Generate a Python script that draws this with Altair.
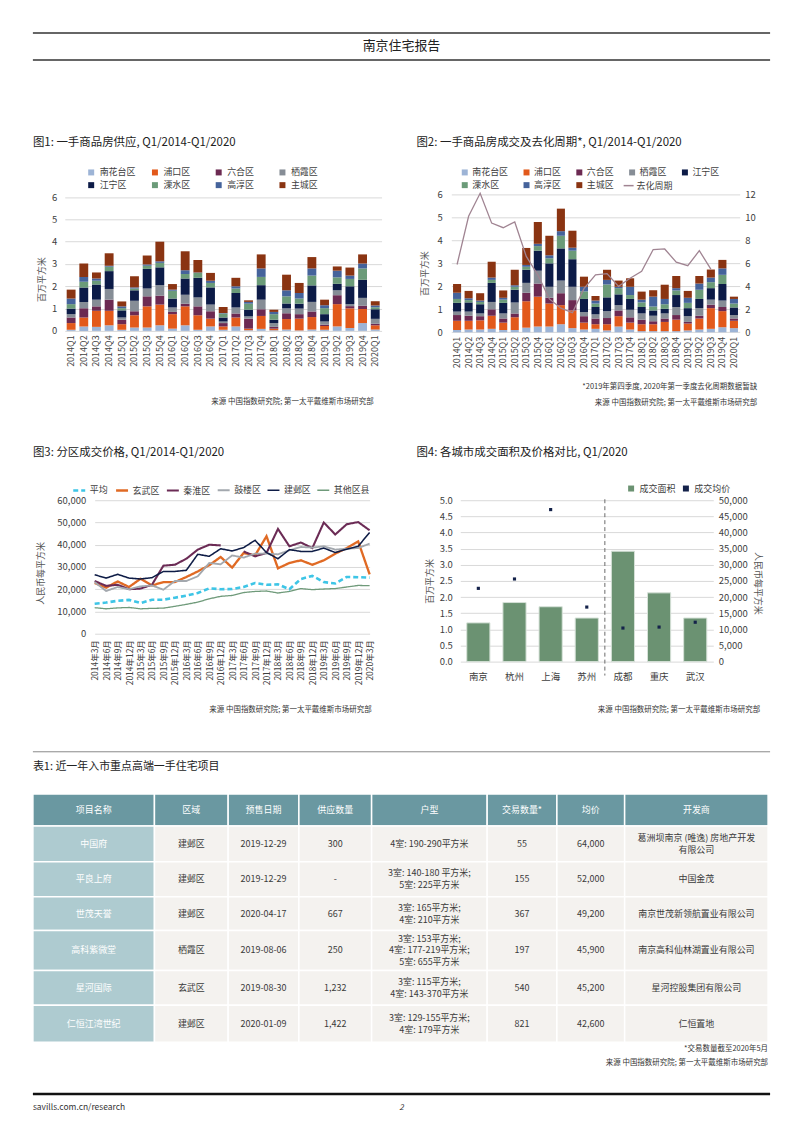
import altair as alt
import pandas as pd

FONT = "Noto Sans CJK SC"
TXT = "#333333"
LAB = "#404040"
GRID = "#d9d9d9"

# ---------------- data ----------------
quarters = ["2014Q1", "2014Q2", "2014Q3", "2014Q4", "2015Q1", "2015Q2", "2015Q3", "2015Q4",
            "2016Q1", "2016Q2", "2016Q3", "2016Q4", "2017Q1", "2017Q2", "2017Q3", "2017Q4",
            "2018Q1", "2018Q2", "2018Q3", "2018Q4", "2019Q1", "2019Q2", "2019Q3", "2019Q4", "2020Q1"]
districts = ["南花台区", "浦口区", "六合区", "栖霞区", "江宁区", "溧水区", "高淳区", "主城区"]
district_colors = ["#9db4d6", "#e2591b", "#6c2a52", "#868d96", "#0c1b47", "#6b9b79", "#45639b", "#8a3412"]

# Fig1 supply (million sqm)
supply = {
    "南花台区": [0.05, 0.2, 0.18, 0.25, 0.05, 0.15, 0.15, 0.25, 0.1, 0.25, 0.05, 0.2, 0.05, 0.2, 0.03, 0.09, 0.03, 0.06, 0.02, 0.06, 0.05, 0.2, 0.13, 0.35, 0.06],
    "浦口区": [0.3, 0.4, 0.72, 0.65, 0.25, 0.55, 0.95, 0.93, 0.65, 0.85, 0.65, 0.35, 0.15, 0.4, 0.07, 0.58, 0.07, 0.47, 0.53, 0.56, 0.17, 1.0, 0.88, 0.63, 0.19],
    "六合区": [0.25, 0.42, 0.2, 0.5, 0.2, 0.18, 0.45, 0.4, 0.1, 0.12, 0.4, 0.33, 0.15, 0.18, 0.45, 0.3, 0.08, 0.26, 0.2, 0.25, 0.06, 0.4, 0.1, 0.15, 0.07],
    "栖霞区": [0.15, 0.28, 0.3, 0.48, 0.1, 0.47, 0.35, 0.47, 0.2, 0.4, 0.4, 0.3, 0.07, 0.27, 0.1, 0.43, 0.17, 0.22, 0.25, 0.43, 0.14, 0.22, 0.09, 0.35, 0.22],
    "江宁区": [0.25, 0.65, 0.68, 0.8, 0.32, 0.47, 0.88, 0.8, 0.4, 0.73, 0.88, 0.77, 0.18, 0.65, 0.3, 0.65, 0.15, 0.22, 0.22, 0.74, 0.33, 0.29, 0.8, 0.81, 0.43],
    "溧水区": [0.2, 0.25, 0.17, 0.2, 0.1, 0.08, 0.14, 0.2, 0.35, 0.2, 0.22, 0.2, 0.18, 0.2, 0.27, 0.37, 0.25, 0.32, 0.23, 0.44, 0.27, 0.29, 0.33, 0.51, 0.09],
    "高淳区": [0.25, 0.22, 0.1, 0.04, 0.08, 0.05, 0.06, 0.07, 0.05, 0.17, 0.02, 0.1, 0.02, 0.1, 0.08, 0.38, 0.1, 0.27, 0.25, 0.32, 0.13, 0.3, 0.15, 0.22, 0.08],
    "主城区": [0.4, 0.6, 0.27, 0.56, 0.22, 0.5, 0.4, 0.88, 0.25, 0.85, 0.56, 0.35, 0.27, 0.38, 0.07, 0.63, 0.1, 0.7, 0.45, 0.51, 0.25, 0.19, 0.36, 0.41, 0.19],
}

# Fig2 transactions (million sqm)
sales = {
    "南花台区": [0.1, 0.12, 0.12, 0.15, 0.1, 0.1, 0.2, 0.25, 0.25, 0.35, 0.18, 0.12, 0.15, 0.08, 0.25, 0.12, 0.05, 0.05, 0.05, 0.05, 0.08, 0.12, 0.15, 0.22, 0.18],
    "浦口区": [0.4, 0.38, 0.4, 0.57, 0.32, 0.55, 1.15, 1.3, 1.0, 0.83, 0.77, 0.3, 0.2, 0.27, 0.45, 0.3, 0.3, 0.3, 0.4, 0.5, 0.3, 0.48, 0.9, 0.7, 0.32],
    "六合区": [0.25, 0.22, 0.18, 0.28, 0.18, 0.17, 0.37, 0.57, 0.25, 0.52, 0.45, 0.28, 0.25, 0.27, 0.25, 0.23, 0.2, 0.13, 0.15, 0.2, 0.07, 0.12, 0.15, 0.18, 0.1],
    "栖霞区": [0.15, 0.18, 0.12, 0.32, 0.22, 0.48, 0.43, 0.56, 0.48, 0.55, 0.58, 0.18, 0.18, 0.3, 0.23, 0.33, 0.27, 0.24, 0.22, 0.35, 0.25, 0.33, 0.22, 0.28, 0.15],
    "江宁区": [0.38, 0.4, 0.4, 0.83, 0.46, 0.55, 0.57, 0.87, 1.02, 1.4, 1.2, 0.57, 0.32, 0.6, 0.47, 0.47, 0.28, 0.23, 0.2, 0.52, 0.35, 0.4, 0.5, 0.72, 0.33],
    "溧水区": [0.17, 0.1, 0.1, 0.13, 0.14, 0.13, 0.13, 0.2, 0.22, 0.55, 0.37, 0.33, 0.15, 0.56, 0.27, 0.17, 0.2, 0.17, 0.2, 0.2, 0.23, 0.4, 0.26, 0.4, 0.17],
    "高淳区": [0.27, 0.08, 0.06, 0.1, 0.08, 0.07, 0.08, 0.1, 0.13, 0.2, 0.13, 0.2, 0.13, 0.2, 0.06, 0.36, 0.12, 0.43, 0.23, 0.1, 0.22, 0.27, 0.2, 0.28, 0.2],
    "主城区": [0.38, 0.32, 0.32, 0.69, 0.32, 0.67, 0.74, 0.95, 0.85, 0.98, 0.74, 0.44, 0.2, 0.44, 0.27, 0.37, 0.35, 0.28, 0.62, 0.53, 0.3, 0.33, 0.35, 0.37, 0.1],
}
# 去化周期 (months), last two quarters missing
cycle_quarters = quarters[:23]
cycle = [5.9, 10.1, 12.1, 9.5, 9.1, 9.6, 6.6, 5.0, 2.9, 2.1, 1.7, 3.8, 5.0, 5.1, 4.0, 4.7,
         5.3, 7.2, 7.25, 6.1, 5.8, 7.1, 5.5]

# Fig3 prices
months = ["2014年3月", "2014年6月", "2014年9月", "2014年12月", "2015年3月", "2015年6月", "2015年9月",
          "2015年12月", "2016年3月", "2016年6月", "2016年9月", "2016年12月", "2017年3月", "2017年6月",
          "2017年9月", "2017年12月", "2018年3月", "2018年6月", "2018年9月", "2018年12月", "2019年3月",
          "2019年6月", "2019年9月", "2019年12月", "2020年3月"]
price_series = ["平均", "玄武区", "秦淮区", "鼓楼区", "建邺区", "其他区县"]
price_colors = ["#3ec5e6", "#e06a24", "#6b2b55", "#a3a8ae", "#0e1c46", "#6f9a7a"]
prices = {
    "平均": [13500, 14000, 14800, 15200, 13800, 15300, 15300, 16200, 17100, 18300, 20400, 20000, 20100,
           21000, 22800, 22000, 22200, 20000, 24600, 26000, 23200, 22600, 25500, 25400, 25200],
    "玄武区": [22800, 20700, 23500, 21000, 24700, 21700, 23200, 23200, 25500, 28000, 30800, 34500, 29700,
            36300, 35200, 43800, 29400, 31800, 33000, 31000, 33000, 36000, 38500, 41500, 26700],
    "秦淮区": [23700, 21500, 22000, 20000, 20300, 22000, 30600, 31000, 33700, 37800, 40000, 39700, None,
            37000, 34800, 36300, 47100, 39300, 41000, 38500, 50000, 44600, 49200, 50200, 46500],
    "鼓楼区": [23200, 19200, 21000, 20000, 21300, 21700, 19800, 23700, 23700, 25800, 31800, 31200, 35200,
            34200, 36000, 36000, 35700, 37500, 39000, 38700, 39300, 37800, 38200, 38500, 40500],
    "建邺区": [26500, 25000, 26700, 25000, 24600, 25200, 28000, 28000, 28500, 35700, 34800, 38200, 37200,
            38700, 42000, 36500, 33700, 37800, 37000, 37000, 38500, 36500, 38000, 39300, 45500],
    "其他区县": [11700, 11200, 11600, 11800, 11200, 11400, 11500, 12300, 13200, 14200, 15700, 16800, 17200,
             18500, 19000, 19200, 18300, 19000, 20300, 19800, 20100, 20300, 21000, 21700, 21600],
}

# Fig4
cities = ["南京", "杭州", "上海", "苏州", "成都", "重庆", "武汉"]
area4 = [1.2, 1.83, 1.7, 1.35, 3.42, 2.13, 1.35]
price4 = [22700, 25600, 47100, 16900, 10400, 10700, 12200]
split_after = 4  # first four cities vs. the rest

# Table
table_header = ["项目名称", "区域", "预售日期", "供应数量", "户型", "交易数量*", "均价", "开发商"]
table_rows = [
    ["中国府", "建邺区", "2019-12-29", "300", "4室: 190-290平方米", "55", "64,000", "葛洲坝南京 (唯逸) 房地产开发\n有限公司"],
    ["平良上府", "建邺区", "2019-12-29", "-", "3室: 140-180 平方米;\n5室: 225平方米", "155", "52,000", "中国金茂"],
    ["世茂天誉", "建邺区", "2020-04-17", "667", "3室: 165平方米;\n4室: 210平方米", "367", "49,200", "南京世茂新领航置业有限公司"],
    ["高科紫微堂", "栖霞区", "2019-08-06", "250", "3室: 153平方米;\n4室: 177-219平方米;\n5室: 655平方米", "197", "45,900", "南京高科仙林湖置业有限公司"],
    ["星河国际", "玄武区", "2019-08-30", "1,232", "3室: 115平方米;\n4室: 143-370平方米", "540", "45,200", "星河控股集团有限公司"],
    ["仁恒江湾世纪", "建邺区", "2020-01-09", "1,422", "3室: 129-155平方米;\n4室: 179平方米", "821", "42,600", "仁恒置地"],
]

SOURCE = "来源  中国指数研究院; 第一太平戴维斯市场研究部"

# ---------------- helpers ----------------
ONE = pd.DataFrame({"k": [0]})
INDEP = dict(color="independent", fill="independent", stroke="independent",
             strokeDash="independent", strokeWidth="independent")


def txt(s, x, y, size=8.0, align="left", color=TXT, weight="normal", style="normal"):
    return alt.Chart(ONE).mark_text(text=s, align=align, baseline="middle", fontSize=size, color=color,
                                    fontWeight=weight, fontStyle=style, font=FONT).encode(
        x=alt.value(x - 8), y=alt.value(y - 8))


def hrule(x1, x2, y, color, width, opacity=1.0):
    return alt.Chart(ONE).mark_rule(color=color, strokeWidth=width, opacity=opacity).encode(
        x=alt.value(x1 - 8), x2=alt.value(x2 - 8), y=alt.value(y - 8))


def spacer(w, h=1):
    return alt.Chart(ONE).mark_point(opacity=0).encode(
        x=alt.value(0), y=alt.value(0)).properties(width=w, height=h)


def quarter_axis():
    return alt.Axis(title=None, labelAngle=-90, labelFontSize=9, labelColor=LAB, ticks=False,
                    domain=False, labelPadding=4, labelOverlap=False)


def yaxis(values, title, tx, ty, fmt=None, orient="left", pad=8):
    kw = dict(values=values, grid=(orient == "left"), gridColor=GRID, domain=False, ticks=False,
              labelFontSize=9.5, labelColor=LAB, labelPadding=pad, orient=orient)
    if fmt:
        kw["format"] = fmt
    if title:
        kw.update(title=title, titleFontSize=9, titleFontWeight="normal", titleColor="#555555",
                  titleX=tx, titleY=ty, titleBaseline="middle", titleAlign="center")
    else:
        kw["title"] = None
    return alt.Axis(**kw)


def long_bars(d):
    rows = []
    for k, name in enumerate(districts):
        for q, v in zip(quarters, d[name]):
            rows.append({"quarter": q, "district": name, "value": v, "order": k})
    return pd.DataFrame(rows)


def bar_layer(df, axis, ymax, legend):
    return alt.Chart(df).mark_bar().encode(
        x=alt.X("quarter:N", sort=quarters, scale=alt.Scale(paddingInner=0.3, paddingOuter=0.15),
                axis=quarter_axis()),
        y=alt.Y("value:Q", stack="zero", scale=alt.Scale(domain=[0, ymax], nice=False), axis=axis),
        color=alt.Color("district:N", scale=alt.Scale(domain=districts, range=district_colors),
                        legend=legend),
        order=alt.Order("order:Q", sort="ascending"),
    )


# ---------------- Fig 1 ----------------
F1_H = 137.0
f1_ymax = 6 * F1_H / 134.3
fig1 = bar_layer(
    long_bars(supply),
    yaxis([0, 1, 2, 3, 4, 5, 6], "百万平方米", -23.3, 85, pad=8),
    f1_ymax,
    alt.Legend(orient="none", legendX=22, legendY=-26.8, direction="horizontal", columns=4, title=None,
               symbolType="square", symbolSize=36, symbolStrokeWidth=0, labelFontSize=9, labelOffset=4,
               columnPadding=14, rowPadding=3, gridAlign="all"),
).properties(width=318, height=F1_H)

# ---------------- Fig 2 ----------------
cycle_df = pd.DataFrame({"quarter": cycle_quarters, "cycle": cycle, "idx": list(range(len(cycle))),
                         "series": ["去化周期"] * len(cycle)})
bars2 = bar_layer(
    long_bars(sales),
    yaxis([0, 1, 2, 3, 4, 5, 6], "百万平方米", -27, 79, pad=9),
    6,
    alt.Legend(orient="none", legendX=9, legendY=-26.8, direction="horizontal", columns=5, title=None,
               symbolType="square", symbolSize=36, symbolStrokeWidth=0, labelFontSize=9, labelOffset=3,
               columnPadding=13, rowPadding=3, gridAlign="each"),
)
line2 = alt.Chart(cycle_df).mark_line(strokeWidth=1.3).encode(
    x=alt.X("quarter:N", sort=quarters),
    y=alt.Y("cycle:Q", scale=alt.Scale(domain=[0, 12], nice=False),
            axis=yaxis([0, 2, 4, 6, 8, 10, 12], None, 0, 0, orient="right", pad=5)),
    stroke=alt.Stroke("series:N", scale=alt.Scale(domain=["去化周期"], range=["#a08492"]),
                      legend=alt.Legend(orient="none", legendX=172, legendY=-14.8, title=None,
                                        symbolType="stroke", symbolSize=100, symbolStrokeWidth=1.5,
                                        labelFontSize=9, labelOffset=2)),
    order=alt.Order("idx:Q"),
)
fig2 = alt.layer(bars2, line2).resolve_scale(y="independent").properties(width=289.5, height=138.4)

# ---------------- Fig 3 ----------------
rows3 = []
for s in price_series:
    for i, (m, v) in enumerate(zip(months, prices[s])):
        if v is None:
            continue
        seg = s
        if s == "秦淮区":
            seg = s + ("_a" if i < 12 else "_b")
        rows3.append({"month": m, "series": s, "seg": seg, "price": v, "idx": i})
df3 = pd.DataFrame(rows3)
leg3 = alt.Legend(orient="none", legendX=-23, legendY=-17.5, direction="horizontal", columns=6, title=None,
                  symbolType="stroke", symbolSize=144, labelFontSize=9, labelOffset=3, columnPadding=2)
fig3 = alt.Chart(df3).mark_line().encode(
    x=alt.X("month:N", sort=months, scale=alt.Scale(type="point", padding=0),
            axis=alt.Axis(title=None, labelAngle=-90, labelFontSize=8.5, labelColor=LAB, ticks=False,
                          domain=False, labelPadding=6, labelOverlap=False)),
    y=alt.Y("price:Q", scale=alt.Scale(domain=[0, 60000], nice=False),
            axis=yaxis([0, 10000, 20000, 30000, 40000, 50000, 60000], "人民币每平方米", -54, 73,
                       fmt=",.0f", pad=9)),
    color=alt.Color("series:N", scale=alt.Scale(domain=price_series, range=price_colors), legend=leg3),
    strokeDash=alt.StrokeDash("series:N", scale=alt.Scale(domain=price_series,
                                                          range=[[5, 3], [1, 0], [1, 0], [1, 0], [1, 0], [1, 0]]),
                              legend=leg3),
    strokeWidth=alt.StrokeWidth("series:N", scale=alt.Scale(domain=price_series,
                                                            range=[2.6, 1.3, 1.3, 1.3, 1.3, 1.3]),
                                legend=leg3),
    detail="seg:N",
    order=alt.Order("idx:Q"),
).properties(width=276, height=134)

# ---------------- Fig 4 ----------------
df4 = pd.DataFrame({"city": cities, "area": area4, "price": price4,
                    "s1": ["成交面积"] * 7, "s2": ["成交均价"] * 7})
leg_scale4 = alt.Scale(domain=["成交面积", "成交均价"], range=["#6b9272", "#14224a"])
leg4 = alt.Legend(orient="none", legendX=167, legendY=-16.5, direction="horizontal", columns=2, title=None,
                  symbolType="square", symbolSize=36, symbolStrokeWidth=0, labelFontSize=9, labelOffset=4,
                  columnPadding=5)
xband4 = alt.Scale(paddingInner=0.36, paddingOuter=0.18)
bars4 = alt.Chart(df4).mark_bar(stroke="#d6e1d8", strokeWidth=1).encode(
    x=alt.X("city:N", sort=cities, scale=xband4,
            axis=alt.Axis(title=None, labelAngle=0, labelFontSize=9.5, labelColor=LAB, ticks=False,
                          domain=False, labelPadding=10)),
    y=alt.Y("area:Q", scale=alt.Scale(domain=[0, 5], nice=False),
            axis=yaxis([0, 0.5, 1, 1.5, 2, 2.5, 3, 3.5, 4, 4.5, 5], "百万平方米", -31, 81, fmt=".1f", pad=8)),
    color=alt.Color("s1:N", scale=leg_scale4, legend=leg4),
)
pts4 = alt.Chart(df4).mark_square(size=10, opacity=1).encode(
    x=alt.X("city:N", sort=cities, scale=xband4, axis=None),
    y=alt.Y("price:Q", scale=alt.Scale(domain=[0, 50000], nice=False),
            axis=yaxis(list(range(0, 50001, 5000)), "人民币每平方米", 44, 83, fmt=",.0f", orient="right", pad=5)),
    color=alt.Color("s2:N", scale=leg_scale4, legend=leg4),
)
split4 = alt.Chart(pd.DataFrame({"pos": [split_after]})).mark_rule(
    color="#6a6a6a", strokeDash=[4, 3], strokeWidth=1).encode(
    x=alt.X("pos:Q", scale=alt.Scale(domain=[0, len(cities)]), axis=None),
    y=alt.value(-1), y2=alt.value(176))
fig4 = alt.layer(bars4, pts4, split4).resolve_scale(y="independent", x="independent").properties(
    width=254, height=162)

# ---------------- Table ----------------
col_edges = [30, 152, 226, 297, 370, 486, 556, 624, 768]
row_edges = [794, 826, 862, 897, 931, 971, 1006, 1043]
LINE_H = 12.0
cells = []
all_rows = [table_header] + table_rows
for r, row in enumerate(all_rows):
    for c, t in enumerate(row):
        kind = "head" if r == 0 else ("first" if c == 0 else "body")
        nlines = t.count("\n") + 1
        cells.append({"t": t, "kind": kind,
                      "x0": col_edges[c], "x1": col_edges[c + 1],
                      "y0": row_edges[r], "y1": row_edges[r + 1],
                      "xc": (col_edges[c] + col_edges[c + 1]) / 2,
                      "yc": (row_edges[r] + row_edges[r + 1]) / 2 - (nlines - 1) * LINE_H / 2})
cells = pd.DataFrame(cells)
tx = alt.Scale(domain=[8, 792], nice=False, zero=False)
ty = alt.Scale(domain=[794, 1043], nice=False, zero=False, reverse=True)
kinds = ["head", "first", "body"]
t_rect = alt.Chart(cells).mark_rect(stroke="white", strokeWidth=1.5).encode(
    x=alt.X("x0:Q", scale=tx, axis=None), x2="x1:Q",
    y=alt.Y("y0:Q", scale=ty, axis=None), y2="y1:Q",
    fill=alt.Fill("kind:N", scale=alt.Scale(domain=kinds, range=["#6a98a1", "#aecbd0", "#f4f2ef"]), legend=None),
)
t_text = alt.Chart(cells).mark_text(fontSize=9, lineHeight=LINE_H, lineBreak="\n", align="center",
                                    baseline="middle", font=FONT).encode(
    x=alt.X("xc:Q", scale=tx, axis=None),
    y=alt.Y("yc:Q", scale=ty, axis=None),
    text="t:N",
    color=alt.Color("kind:N", scale=alt.Scale(domain=kinds, range=["#ffffff", "#ffffff", "#3a3a3a"]), legend=None),
)
table = alt.layer(t_rect, t_text).resolve_scale(**INDEP).properties(width=784, height=249)

# ---------------- annotations (page text) ----------------
annot = alt.layer(
    hrule(8, 792, 8, "white", 1, 0),
    hrule(30, 770, 31, "#333333", 1.5),
    hrule(30, 770, 58, "#333333", 1.5),
    txt("南京住宅报告", 400, 44.5, 13, "center", "#222222"),
    txt("图1: 一手商品房供应, Q1/2014-Q1/2020", 30, 141, 11.5, color="#222222"),
    txt("图2:  一手商品房成交及去化周期*, Q1/2014-Q1/2020", 415, 141, 11.5, color="#222222"),
    txt(SOURCE, 372, 401, 7.5, "right"),
    txt("*2019年第四季度, 2020年第一季度去化周期数据暂缺", 757, 386, 7.5, "right"),
    txt(SOURCE, 757, 402, 7.5, "right"),
    txt("图3: 分区成交价格, Q1/2014-Q1/2020", 30, 453, 11.5, color="#222222"),
    txt("图4: 各城市成交面积及价格对比, Q1/2020", 415, 453, 11.5, color="#222222"),
    txt(SOURCE, 370, 711, 7.5, "right"),
    txt(SOURCE, 760, 711, 7.5, "right"),
    hrule(30, 770, 752.5, "#8a8a8a", 1),
    txt("表1: 近一年入市重点高端一手住宅项目", 30, 768, 11, color="#222222"),
    txt("*交易数量截至2020年5月", 768, 1051, 7.5, "right"),
    txt(SOURCE, 768, 1065, 7.5, "right"),
    hrule(30, 770, 1096, "#111111", 2.5),
    txt("savills.com.cn/research", 30, 1109, 8.5, color="#333333"),
    txt("2", 400, 1110, 8, "center", "#333333", style="italic"),
).properties(width=784, height=184.3)

row1 = alt.hconcat(spacer(53.3), fig1, spacer(69.7), fig2, spacing=0, bounds="flush").resolve_scale(
    **INDEP).resolve_legend(**INDEP)
row2 = alt.hconcat(spacer(84), fig3, spacer(91), fig4, spacing=0, bounds="flush").resolve_scale(
    **INDEP).resolve_legend(**INDEP)

chart = alt.vconcat(annot, row1, spacer(1, 306.7), row2, spacer(1, 295), table,
                    spacing=0, bounds="flush").resolve_scale(**INDEP).resolve_legend(**INDEP).properties(
    padding=0).configure(font=FONT).configure_view(stroke=None).configure_axis(
    labelFont=FONT, titleFont=FONT).configure_legend(labelFont=FONT, labelColor=LAB, padding=0)

chart.save("out.html", embed_options={"renderer": "svg", "actions": False})
